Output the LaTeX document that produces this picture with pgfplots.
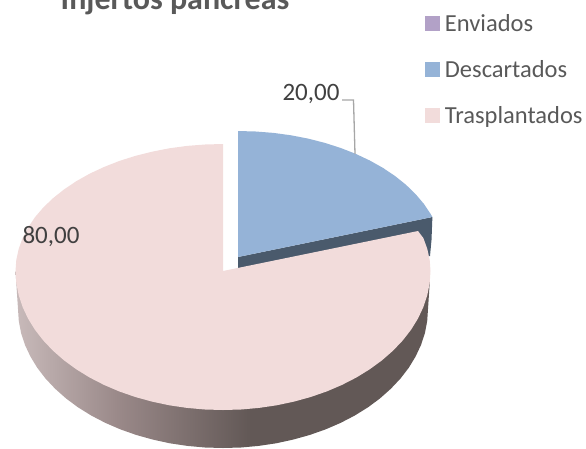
\documentclass[border=0pt]{standalone}
\usepackage{pgfplots}
\pgfplotsset{compat=1.18}
\usepackage{fontspec}
\setmainfont{Carlito}
\definecolor{cPink}{HTML}{F2DCDB}
\definecolor{cBlue}{HTML}{95B3D7}
\definecolor{cPurple}{HTML}{B2A1C7}
\definecolor{cDark}{HTML}{4A5A6C}
\definecolor{cText}{HTML}{404040}
\definecolor{cLeg}{HTML}{595959}
\definecolor{gA}{HTML}{C8BABA}
\definecolor{gB}{HTML}{998888}
\definecolor{gC}{HTML}{625856}
\pgfdeclarehorizontalshading{sidegrad}{100bp}{
 color(0bp)=(gA);
 color(25bp)=(gA);
 color(37.6bp)=(gB);
 color(53.3bp)=(gC);
 color(100bp)=(gC)}
\begin{document}
\begin{tikzpicture}
\path[use as bounding box, clip] (0,0) rectangle (586pt,448pt);
\begin{axis}[
  width=586pt,height=448pt,scale only axis,
  xmin=0,xmax=586,ymin=0,ymax=448,y dir=reverse,
  hide axis,clip=false,
  legend style={at={(axis cs:425,13)},anchor=north west,draw=none,fill=none,
    font=\fontsize{24.5}{28}\selectfont\color{cLeg},
    row sep=25.5pt,inner sep=0pt,outer sep=0pt,
    /tikz/column 1/.style={column sep=5pt},
    nodes={inner sep=1pt}},
  legend cell align=left,
  legend image code/.code={\fill[#1] (0pt,-7pt) rectangle (13.5pt,7pt);},
]
% side of the big slice
\addplot[draw=none,shading=sidegrad,forget plot] coordinates {
(15.5,271)(18,309)(18.8,321.1)(21.1,333.1)(25,345)(30.4,356.5)(37.2,367.7)(45.5,378.5)(55.1,388.7)(66,398.4)(78,407.3)(91.2,415.5)(105.4,422.9)(120.5,429.4)(136.4,435)(152.9,439.6)(169.9,443.3)(187.4,445.9)(205.1,447.5)(223,448)
(240.9,447.5)(258.6,445.9)(276.1,443.3)(293.1,439.6)(309.6,435)(325.5,429.4)(340.6,422.9)(354.8,415.5)(368,407.3)(380,398.4)(390.9,388.7)(400.5,378.5)(408.8,367.7)(415.6,356.5)(421,345)(424.9,333.1)(427.2,321.1)(428,309)(430.5,271)(223,271)};
% side of the small slice
\addplot[draw=none,fill=cDark,forget plot] coordinates {
(238,257)(432.4,217)(431.5,240)(430,256)(238,268)};
% big slice 80,00
\addplot[draw=none,fill=cPink,forget plot] coordinates {
(223,271)(223,144)(204.9,144.5)(187,145.9)(169.3,148.3)(152,151.7)(135.3,155.9)(119.2,161)(104,167)(89.6,173.7)(76.3,181.2)(64.1,189.4)(53,198.2)(43.3,207.5)(34.9,217.3)(28,227.6)(22.6,238.1)(18.7,248.9)(16.3,259.9)(15.5,271)
(16.3,283.1)(18.7,295.1)(22.6,307)(28,318.5)(34.9,329.7)(43.3,340.5)(53,350.7)(64.1,360.4)(76.3,369.3)(89.6,377.5)(104,384.9)(119.2,391.4)(135.3,397)(152,401.6)(169.3,405.3)(187,407.9)(204.9,409.5)(223,410)
(241.1,409.5)(259,407.9)(276.7,405.3)(294,401.6)(310.7,397)(326.8,391.4)(342,384.9)(356.4,377.5)(369.7,369.3)(381.9,360.4)(393,350.7)(402.7,340.5)(411.1,329.7)(418,318.5)(423.4,307)(427.3,295.1)(429.7,283.1)(430.5,271)
(429.7,259.9)(427.3,248.9)(423.4,238.1)(418,231)};
% small slice 20,00
\addplot[draw=none,fill=cBlue,forget plot] coordinates {
(238,257)(432.4,217)(430.6,213.9)(423.8,203.8)(415.5,194)(405.9,184.7)(395,176)(383,167.9)(369.8,160.5)(355.6,153.8)(340.5,147.9)(324.6,142.8)(308.1,138.6)(291.1,135.3)(273.6,132.9)(255.9,131.5)(238,131)};
% leader line
\addplot[color=black!35,line width=1.3pt,forget plot] coordinates {(342,100)(353.5,100)(355,154)};
% legend
\addlegendimage{cPurple}\addlegendentry{Enviados}
\addlegendimage{cBlue}\addlegendentry{Descartados}
\addlegendimage{cPink}\addlegendentry{Trasplantados}
\node[anchor=base,font=\fontsize{25}{28}\selectfont,text=cText,inner sep=0pt] at (axis cs:311,100) {20,00};
\node[anchor=base,font=\fontsize{25}{28}\selectfont,text=cText,inner sep=0pt] at (axis cs:51,243) {80,00};
\node[anchor=base,font=\fontsize{32}{36}\selectfont\bfseries,text=cLeg,inner sep=0pt] at (axis cs:175,9) {Injertos páncreas};
\end{axis}
\end{tikzpicture}
\end{document}
